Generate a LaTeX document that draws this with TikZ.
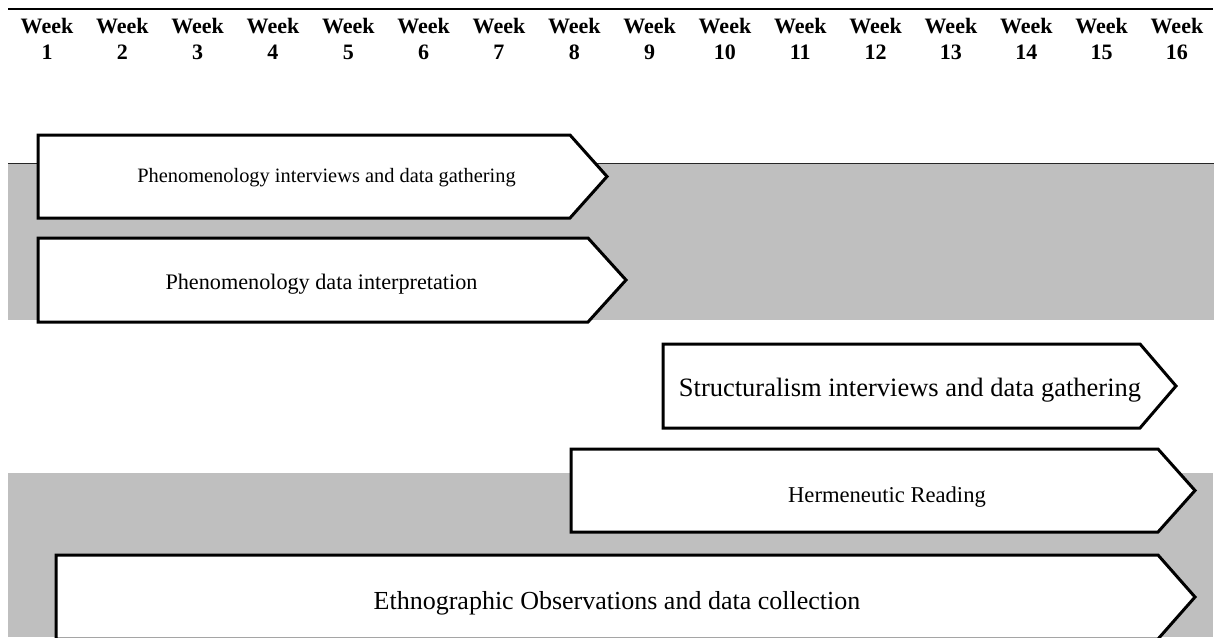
\documentclass[tikz,border=0pt]{standalone}
\usepackage{fontspec}
\setmainfont{Liberation Serif}
\definecolor{band}{RGB}{191,191,191}
\begin{document}
\begin{tikzpicture}[x=1pt,y=-1pt,
  bar/.style={draw=black, line width=3pt, fill=white, line join=miter, miter limit=10},
  lbl/.style={anchor=base, inner sep=0pt},
  hdr/.style={anchor=base, inner sep=0pt, font=\fontsize{22}{26}\selectfont\bfseries}]
\useasboundingbox (0,0) rectangle (1217,637);
\fill[white] (0,0) rectangle (1217,637);
% header rule
\draw[line width=1.5pt] (8,9) -- (1213,9);
\foreach \i in {1,...,16} {
  \node[hdr] (w\i) at ({47+75.33*(\i-1)},33) {Week};
  \node[hdr] (n\i) at ({47+75.33*(\i-1)},59) {\i};
}
% grey bands
\fill[band] (8,163) rectangle (1214,320);
\draw[line width=1pt, black!85] (8,163) -- (1214,163);
\fill[band] (8,473) rectangle (1213,637);
% bars
\draw[bar] (38,135) -- (570,135) -- (607,176.5) -- (570,218) -- (38,218) -- cycle;
\draw[bar] (38,238) -- (588,238) -- (626,280) -- (588,322) -- (38,322) -- cycle;
\draw[bar] (663,344) -- (1140,344) -- (1176,386) -- (1140,428) -- (663,428) -- cycle;
\draw[bar] (571,449) -- (1158,449) -- (1195,490.5) -- (1158,532) -- (571,532) -- cycle;
\draw[bar] (56,555) -- (1158,555) -- (1195,597) -- (1158,639) -- (56,639) -- cycle;
% labels
\node[lbl, font=\fontsize{20.4}{24}\selectfont] (t1) at (326.5,182) {Phenomenology interviews and data gathering};
\node[lbl, font=\fontsize{22.2}{26}\selectfont] (t2) at (321.5,289) {Phenomenology data interpretation};
\node[lbl, font=\fontsize{26.5}{30}\selectfont] (t3) at (910,396) {Structuralism interviews and data gathering};
\node[lbl, font=\fontsize{22.6}{26}\selectfont] (t4) at (887,502) {Hermeneutic Reading};
\node[lbl, font=\fontsize{26}{30}\selectfont] (t5) at (617,609) {Ethnographic Observations and data collection};
\end{tikzpicture}
\end{document}
